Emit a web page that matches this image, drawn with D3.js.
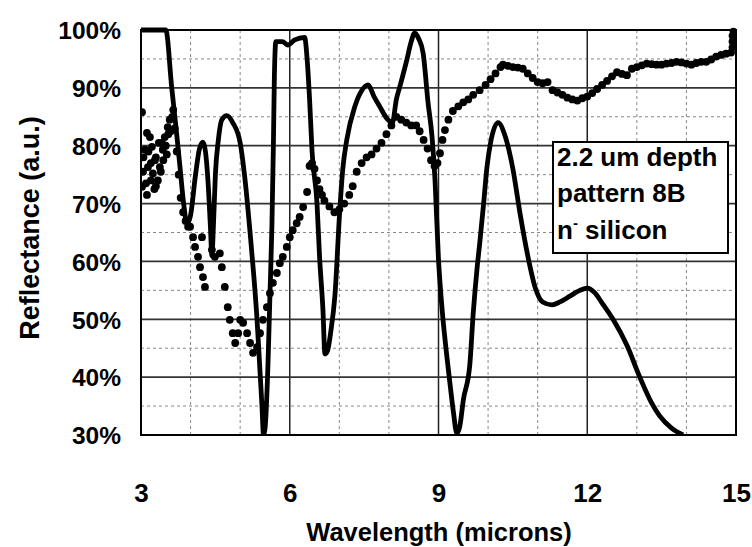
<!DOCTYPE html>
<html><head><meta charset="utf-8">
<script src="https://cdn.jsdelivr.net/npm/d3@7/dist/d3.min.js"></script>
<style>body{margin:0;background:#fff}svg text{font-family:"Liberation Sans",Arial,sans-serif;font-weight:bold;fill:#000}</style>
</head><body><svg id="c" width="752" height="547"></svg>
<script>
// Solid curve (x = wavelength µm, y = reflectance %)
const lineX = [3.0,3.5,3.62,3.72,3.79,3.86,3.93,4.0,4.1,4.18,4.25,4.3,4.35,4.4,4.43,4.46,4.5,4.56,4.63,4.73,4.85,5.0,5.1,5.2,5.28,5.34,5.4,5.44,5.47,5.5,5.56,5.6,5.64,5.67,5.69,5.72,5.85,5.96,6.1,6.3,6.35,6.4,6.45,6.55,6.6,6.67,6.71,6.76,6.83,6.91,7.01,7.07,7.15,7.31,7.45,7.58,7.7,7.8,7.98,8.07,8.15,8.22,8.36,8.45,8.52,8.6,8.69,8.79,8.87,8.93,9.0,9.07,9.15,9.23,9.3,9.37,9.43,9.5,9.63,9.7,9.78,9.83,9.91,9.98,10.05,10.2,10.35,10.5,10.65,10.8,10.95,11.1,11.29,11.45,11.65,11.85,12.0,12.15,12.3,12.52,12.8,13.06,13.3,13.46,13.7,13.93];
const lineY = [100,100,90,82,76,70,66.5,68,75,79.5,80.6,79,74,66,61,66,75,81,84.5,85.2,84,80.5,74,65,57,50,41,35,30,31,42,54,66,80,92,98,98,97.4,98.3,98.7,95,88,79,70,61,51.5,44,44.5,48,54,69,76,81,86.7,89.5,90.5,88.5,87,84.5,84,88,90.2,94.8,98,99.5,98.5,96,87.4,81.5,74,60.3,52,45,39,34,30.3,31.5,36,42,51,59,63,70,76.5,80.5,84,81.5,76,68,61,55.5,53,52.5,53,54,55,55.4,54.6,52.8,50,45.5,40,35.5,33.3,31.2,30];
// Measured points (dotted series)
const dotX = [3.02,3.08,3.12,3.14,3.18,3.22,3.24,3.28,3.34,3.38,3.44,3.48,3.54,3.63,3.65,3.02,3.05,3.1,3.15,3.2,3.27,3.3,3.36,3.4,3.45,3.5,3.55,3.58,3.04,3.12,3.2,3.3,3.42,3.52,3.6,3.68,3.72,3.76,3.8,3.85,3.9,3.95,3.99,4.05,4.09,4.15,4.19,4.23,4.25,4.29,4.43,4.49,4.59,4.63,4.69,4.75,4.79,4.85,4.9,4.96,5.0,5.06,5.14,5.2,5.26,5.34,5.4,5.46,5.54,5.6,5.66,5.74,5.8,5.86,5.94,6.0,6.06,6.14,6.2,6.27,6.35,6.4,6.45,6.5,6.55,6.6,6.65,6.7,6.8,6.9,7.0,7.1,7.2,7.27,7.35,7.45,7.55,7.65,7.75,7.85,7.95,8.05,8.15,8.25,8.35,8.45,8.55,8.62,8.7,8.78,8.85,8.92,8.98,9.03,9.08,9.13,9.2,9.29,9.4,9.5,9.6,9.7,9.83,9.95,10.05,10.15,10.25,10.3,10.4,10.5,10.6,10.7,10.8,10.9,11.0,11.1,11.2,11.3,11.4,11.5,11.6,11.7,11.8,11.9,12.0,12.1,12.2,12.3,12.4,12.5,12.6,12.7,12.8,12.9,13.0,13.1,13.2,13.3,13.4,13.5,13.6,13.7,13.8,13.9,14.0,14.1,14.2,14.3,14.4,14.5,14.6,14.7,14.8,14.9,14.93,14.93,14.93,14.95];
const dotY = [85.8,79.3,82.2,76.3,81.5,79.8,75.2,77.5,74,76.3,79.3,81.5,83.2,85,86.2,72.9,78,73.5,79,74,72.5,78,80.5,75.5,77.5,80,82,84.5,75.5,71.5,77,73,80.5,78.5,82.5,83,79,75,71,68.5,67,66,66,64.2,62.5,60.8,59,64.2,57.3,55.6,62,60.8,61.4,59,55.6,52.1,49.9,47.6,45.9,47.6,49.9,49.4,47.6,45.9,44.2,45.2,47.6,49.9,52.1,54.5,56.3,58,59.7,60.8,62.5,64.2,65.4,66.6,67.7,69.4,72,76.5,77,76,74,72.5,71.5,70.5,69.5,68.5,69,70,71.5,73,75.5,77,78,78.5,79.5,80.5,82,83.5,85,84.5,84,83.5,83.5,82.5,81,79.5,77.5,76.5,77,78.7,81,82.7,84.5,86,86.8,87.5,88,88.8,89.6,90.5,91.5,92.5,93.6,94,93.8,93.6,93.5,93.3,92.5,91.7,91,90.8,91,89.6,89.2,88.8,88.3,88,87.8,88.2,88.5,89.1,89.8,90.5,91.2,92,92.7,92.4,92.2,93.3,93.6,93.9,94.2,94.1,94,94,94.2,94.3,94.5,94.4,94.2,94,94.3,94.5,94.5,94.9,95.4,95.7,95.9,96.1,97,98,99,99.7];
const xTicks = [3,6,9,12,15];
const xMinor = [4,5,7,8,10,11,13,14];
const yTicks = [30,40,50,60,70,80,90,100];
const yMinor = [35,45,55,65,75,85,95];
const legendLines = ["2.2 um depth","pattern 8B"];

const L=141,R=736,T=30,B=435;
const svg=d3.select("#c");
const x=d3.scaleLinear().domain([3,15]).range([L,R]);
const y=d3.scaleLinear().domain([30,100]).range([B,T]);

// minor grid
svg.append("g").selectAll("line").data(xMinor).join("line")
 .attr("x1",d=>x(d)).attr("x2",d=>x(d)).attr("y1",T).attr("y2",B)
 .attr("stroke","#888").attr("stroke-width",1).attr("stroke-dasharray","3,3");
svg.append("g").selectAll("line").data(yMinor).join("line")
 .attr("y1",d=>y(d)).attr("y2",d=>y(d)).attr("x1",L).attr("x2",R)
 .attr("stroke","#888").attr("stroke-width",1).attr("stroke-dasharray","3,3");
// major grid
svg.append("g").selectAll("line").data(xTicks.slice(1,-1)).join("line")
 .attr("x1",d=>x(d)).attr("x2",d=>x(d)).attr("y1",T).attr("y2",B)
 .attr("stroke","#222").attr("stroke-width",1.5);
svg.append("g").selectAll("line").data(yTicks.slice(1,-1)).join("line")
 .attr("y1",d=>y(d)).attr("y2",d=>y(d)).attr("x1",L).attr("x2",R)
 .attr("stroke","#333").attr("stroke-width",1.8);

svg.append("clipPath").attr("id","clip").append("rect")
 .attr("x",L).attr("y",T-3).attr("width",R-L).attr("height",B-T+3);

const g=svg.append("g").attr("clip-path","url(#clip)");
const pts=lineX.map((v,i)=>[v,lineY[i]]);
g.append("path").datum(pts)
 .attr("d",d3.line().x(d=>x(d[0])).y(d=>y(d[1])).curve(d3.curveMonotoneX))
 .attr("fill","none").attr("stroke","#000").attr("stroke-width",4.8).attr("stroke-linejoin","round");
g.append("g").selectAll("circle").data(dotX.map((v,i)=>[v,dotY[i]])).join("circle")
 .attr("cx",d=>x(d[0])).attr("cy",d=>y(d[1])).attr("r",3.9).attr("fill","#000");

// frame
svg.append("rect").attr("x",L).attr("y",T).attr("width",R-L).attr("height",B-T)
 .attr("fill","none").attr("stroke","#000").attr("stroke-width",2);

// axes (labels only)
const xa=d3.axisBottom(x).tickValues(xTicks).tickSize(0).tickPadding(0).tickFormat(d3.format("d"));
const gx=svg.append("g").attr("transform",`translate(0,${B})`).call(xa);
gx.select(".domain").remove();
gx.selectAll("text").attr("y",67).attr("dy",0).attr("font-size",26).style("font-weight","bold").attr("fill","#000");
const ya=d3.axisLeft(y).tickValues(yTicks).tickSize(0).tickPadding(0).tickFormat(d=>d+"%");
const gy=svg.append("g").attr("transform",`translate(121,0)`).call(ya);
gy.select(".domain").remove();
gy.selectAll("text").attr("x",0).attr("dy","0.36em").attr("font-size",24.5).style("font-weight","bold").attr("fill","#000");

svg.append("text").attr("x",439).attr("y",541).attr("text-anchor","middle").attr("font-size",25.5).text("Wavelength (microns)");
svg.append("text").attr("transform","translate(39,228) rotate(-90)").attr("text-anchor","middle").attr("font-size",27).text("Reflectance (a.u.)");

// legend
svg.append("rect").attr("x",553).attr("y",142).attr("width",175).attr("height",111)
 .attr("fill","#fff").attr("stroke","#000").attr("stroke-width",2);
svg.append("text").attr("x",557).attr("y",166).attr("font-size",26).text(legendLines[0]);
svg.append("text").attr("x",557).attr("y",202).attr("font-size",26).text(legendLines[1]);
const t3=svg.append("text").attr("x",557).attr("y",239).attr("font-size",26);
t3.append("tspan").text("n");
t3.append("tspan").attr("dy",-11).attr("font-size",15).text("-");
t3.append("tspan").attr("dy",11).attr("font-size",26).text(" silicon");
</script></body></html>
